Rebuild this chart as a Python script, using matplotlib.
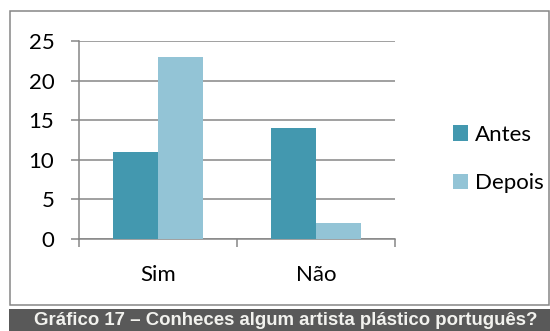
import numpy as np
import matplotlib.pyplot as plt
from matplotlib.patches import Rectangle

categorias = ['Sim', 'Não']
antes = [11, 14]
depois = [23, 2]
series = ['Antes', 'Depois']
yticks = [0, 5, 10, 15, 20, 25]
titulo = 'Gráfico 17 – Conheces algum artista plástico português?'

cor_antes = '#4398AF'
cor_depois = '#93C4D6'
cinza = '#868686'

plt.rcParams['font.family'] = ['Lato', 'DejaVu Sans']

fig = plt.figure(figsize=(5.5, 3.31), dpi=100)
fig.patch.set_facecolor('white')

# moldura do gráfico
fig.patches.append(Rectangle((9.5 / 550, 1 - 305 / 331), 540 / 550, 294 / 331,
                             transform=fig.transFigure, fill=False,
                             edgecolor=cinza, linewidth=1.1))

ax = fig.add_axes([79 / 550, 1 - 239 / 331, 316 / 550, 198 / 331])
x = np.arange(len(categorias))
w = 0.285
b1 = ax.bar(x - w / 2, antes, w, color=cor_antes, zorder=3)
b2 = ax.bar(x + w / 2, depois, w, color=cor_depois, zorder=3)

ax.set_xlim(-0.5, 1.5)
ax.set_ylim(0, 25)
ax.set_yticks(yticks)
ax.yaxis.grid(True, color=cinza, linewidth=1.1, zorder=0)
ax.set_axisbelow(True)
for s in ['top', 'right']:
    ax.spines[s].set_visible(False)
for s in ['left', 'bottom']:
    ax.spines[s].set_color(cinza)
    ax.spines[s].set_linewidth(1.1)

ax.set_xticks(x)
ax.set_xticklabels(categorias)
ax.set_xticks([-0.5, 0.5, 1.5], minor=True)
ax.tick_params(axis='x', which='major', length=0, pad=19, labelsize=16)
ax.tick_params(axis='x', which='minor', length=5.8, width=1.1, color=cinza)
ax.tick_params(axis='y', length=5.8, width=1.1, color=cinza, pad=12, labelsize=16)

ax.legend([b1, b2], series, loc='center left', bbox_to_anchor=(433 / 550, 1 - 159 / 331),
          bbox_transform=fig.transFigure, frameon=False, fontsize=16,
          handlelength=0.68, handleheight=0.68, handletextpad=0.32, labelspacing=1.27)

# faixa da legenda inferior
fig.patches.append(Rectangle((9 / 550, 0), 541 / 550, 22 / 331,
                             transform=fig.transFigure, facecolor='#595959',
                             edgecolor='none'))
fig.text(286 / 550, 10.5 / 331, titulo, ha='center', va='center', color='#f2f2ee',
         fontsize=13.4, fontweight='bold', family=['Liberation Sans', 'DejaVu Sans'])

plt.savefig('out.png', dpi=100)
